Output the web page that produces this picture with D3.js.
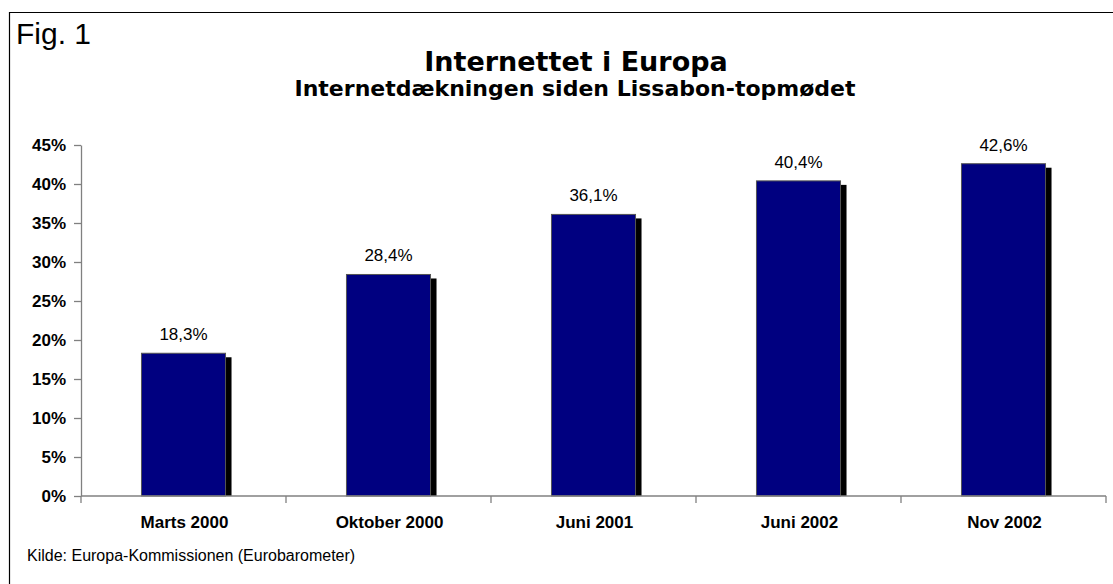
<!DOCTYPE html>
<html>
<head>
<meta charset="utf-8">
<script src="https://cdn.jsdelivr.net/npm/d3@7"></script>
<style>
  body { margin: 0; background: #fff; overflow: hidden; }
  svg { display: block; }
</style>
</head>
<body>
<script>
'use strict';

const categories = ['Marts 2000', 'Oktober 2000', 'Juni 2001', 'Juni 2002', 'Nov 2002'];
const values = [18.3, 28.4, 36.1, 40.4, 42.6];
const yTicks = [0, 5, 10, 15, 20, 25, 30, 35, 40, 45];

(function() {
  const width = 1113, height = 584;
  const svg = d3.select('body').append('svg')
    .attr('width', width)
    .attr('height', height)
    .style('font-family', 'Arial, "Liberation Sans", sans-serif');

  // outer frame: only top and left edge are inside the picture
  svg.append('path')
    .attr('d', 'M9.5,' + height + 'V12.5H' + width)
    .attr('fill', 'none')
    .attr('stroke', '#000')
    .attr('stroke-width', 1.2);

  svg.append('text')
    .attr('x', 16).attr('y', 44)
    .style('font-size', '30px')
    .text('Fig. 1');

  svg.append('text')
    .attr('x', 576).attr('y', 71)
    .attr('text-anchor', 'middle')
    .style('font-family', '"DejaVu Sans", Verdana, sans-serif')
    .style('font-weight', 'bold')
    .style('font-size', '27px')
    .text('Internettet i Europa');

  svg.append('text')
    .attr('x', 575).attr('y', 96)
    .attr('text-anchor', 'middle')
    .style('font-family', '"DejaVu Sans", Verdana, sans-serif')
    .style('font-weight', 'bold')
    .style('font-size', '22px')
    .text('Internetdækningen siden Lissabon-topmødet');

  // scales
  const x = d3.scaleBand().domain(categories).range([81, 1106]).paddingInner(0.59).paddingOuter(0.295);
  const y = d3.scaleLinear().domain([0, 45]).range([496, 145]);

  // y axis
  const yAxis = svg.append('g')
    .attr('transform', 'translate(81,0)')
    .call(d3.axisLeft(y).tickValues(yTicks).tickSize(7).tickSizeOuter(0).tickPadding(8)
      .tickFormat(d => d + '%'));
  yAxis.select('.domain').attr('stroke', '#808080').attr('stroke-width', 1.3);
  yAxis.selectAll('.tick line').attr('stroke', '#808080').attr('stroke-width', 1.3);
  yAxis.selectAll('.tick text')
    .style('font-family', 'Arial, "Liberation Sans", sans-serif')
    .style('font-size', '17px')
    .style('font-weight', 'bold')
    .attr('fill', '#000');

  // bars with shadow
  const bars = svg.append('g');
  bars.selectAll('.shadow')
    .data(values)
    .enter()
    .append('rect')
      .attr('class', 'shadow')
      .attr('x', (d, i) => x(categories[i]) + 6)
      .attr('y', d => y(d) + 4)
      .attr('width', x.bandwidth())
      .attr('height', d => y(0) - y(d) - 4)
      .attr('fill', '#000');

  bars.selectAll('.bar')
    .data(values)
    .enter()
    .append('rect')
      .attr('class', 'bar')
      .attr('x', (d, i) => x(categories[i]))
      .attr('y', d => y(d))
      .attr('width', x.bandwidth())
      .attr('height', d => y(0) - y(d))
      .attr('fill', '#000080')
      .attr('stroke', '#555')
      .attr('stroke-width', 1);

  // value labels
  svg.selectAll('.label')
    .data(values)
    .enter()
    .append('text')
      .attr('class', 'label')
      .attr('x', (d, i) => x(categories[i]) + x.bandwidth() / 2)
      .attr('y', d => y(d) - 13)
      .attr('text-anchor', 'middle')
      .style('font-size', '17px')
      .text(d => d3.format('.1f')(d).replace('.', ',') + '%');

  // x axis
  const xAxis = svg.append('g')
    .attr('transform', 'translate(0,496)');
  xAxis.append('line')
    .attr('x1', 81).attr('x2', 1106)
    .attr('stroke', '#808080').attr('stroke-width', 1.3);
  const edges = d3.range(categories.length + 1).map(i => 81 + i * (1025 / categories.length));
  xAxis.selectAll('.xtick')
    .data(edges)
    .enter()
    .append('line')
      .attr('x1', d => d).attr('x2', d => d)
      .attr('y1', 0).attr('y2', 7)
      .attr('stroke', '#808080').attr('stroke-width', 1.3);
  xAxis.selectAll('.xlab')
    .data(categories)
    .enter()
    .append('text')
      .attr('x', d => x(d) + x.bandwidth() / 2 + 1)
      .attr('y', 32)
      .attr('text-anchor', 'middle')
      .style('font-size', '17px')
      .style('font-weight', 'bold')
      .text(d => d);

  svg.append('text')
    .attr('x', 27).attr('y', 561)
    .style('font-size', '16px')
    .text('Kilde: Europa-Kommissionen (Eurobarometer)');
})();
</script>
</body>
</html>
